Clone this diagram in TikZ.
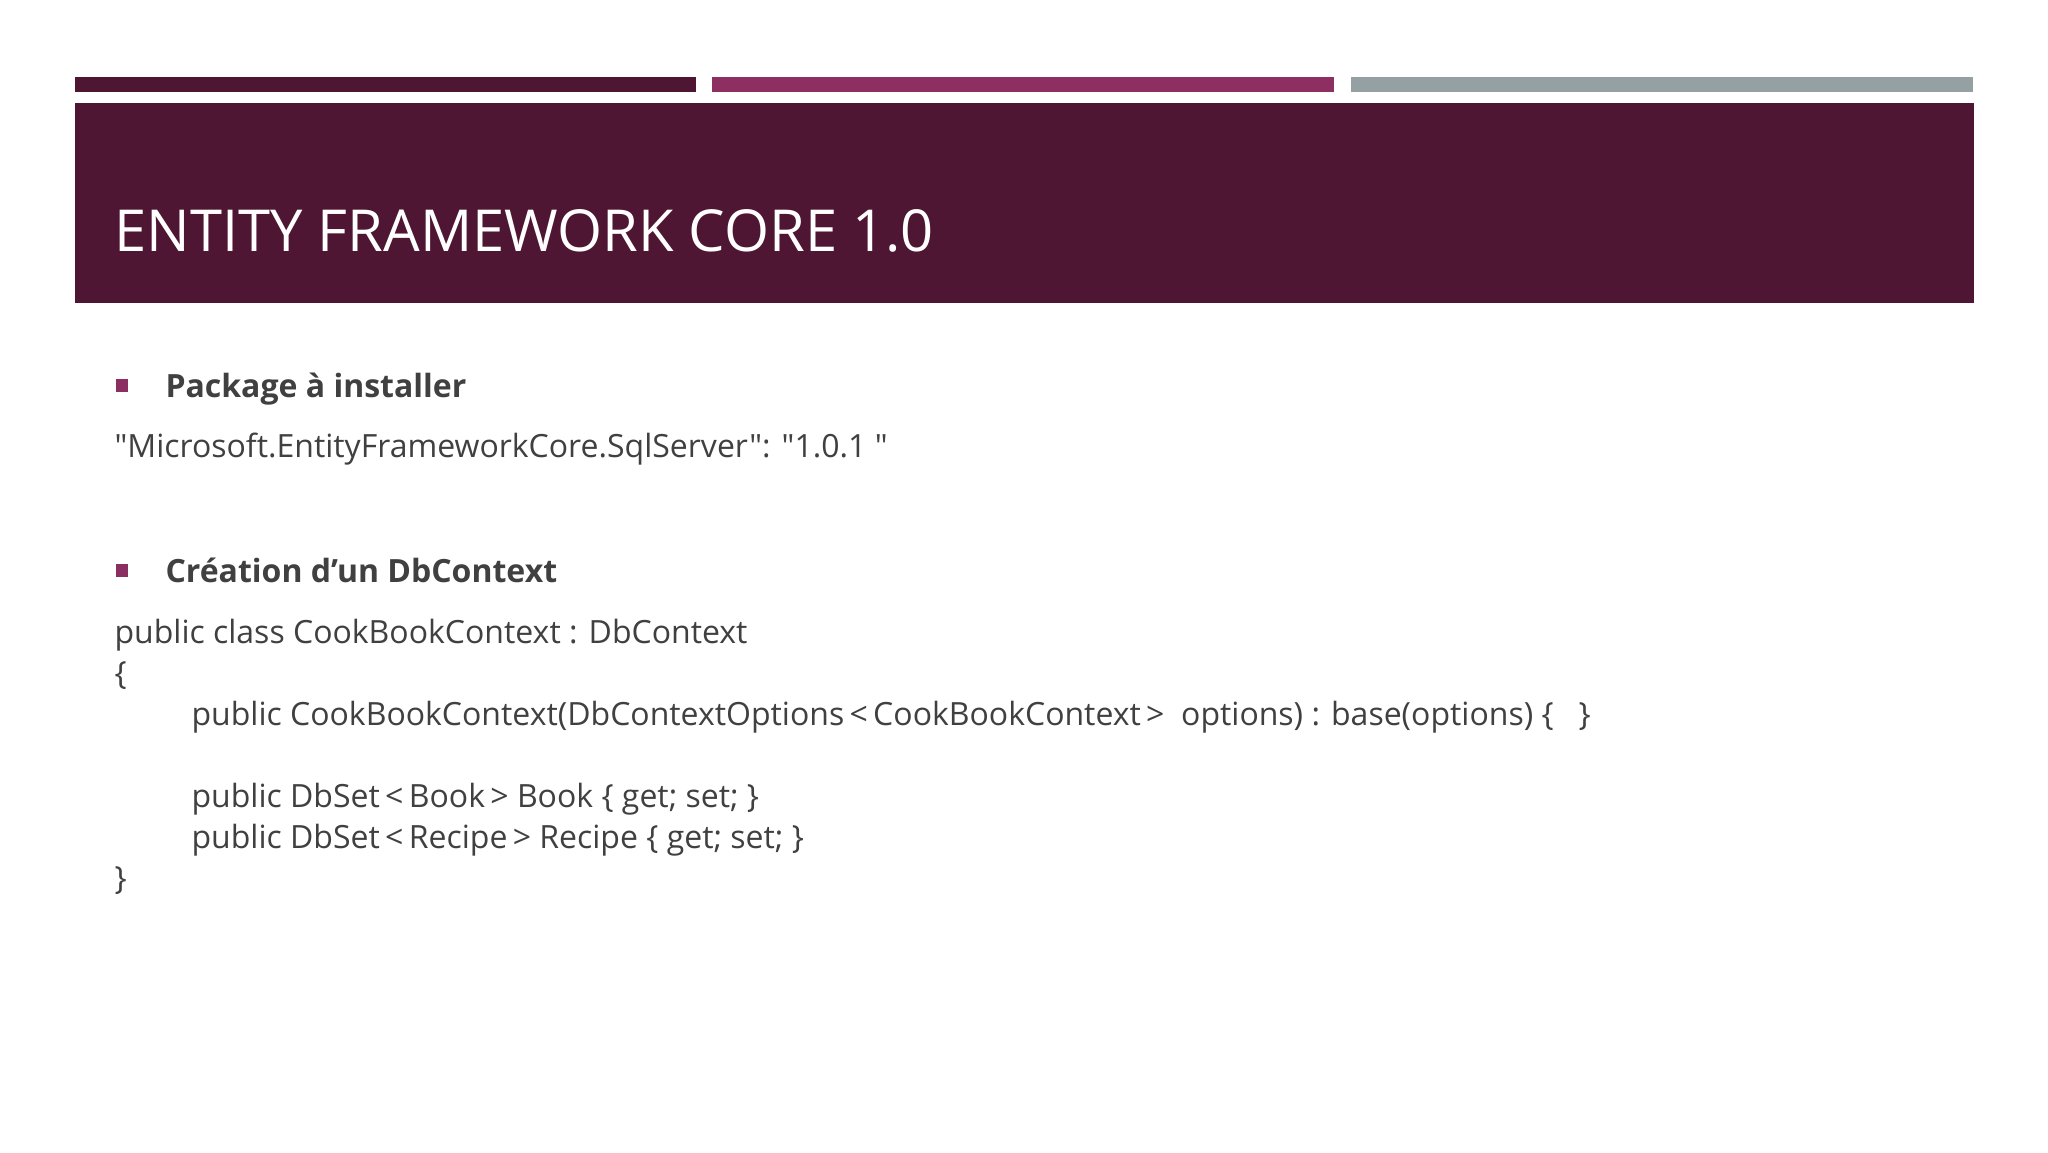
\documentclass[tikz,border=0pt]{standalone}
\usepackage{fontspec}
\setmainfont{Open Sans}[Ligatures=TeXOff]
\definecolor{banner}{HTML}{4F1634}
\definecolor{barmag}{HTML}{8D2F60}
\definecolor{bargrey}{HTML}{95A0A3}
\definecolor{bulletc}{HTML}{8B2F62}
\definecolor{txt}{HTML}{404040}
\begin{document}
\begin{tikzpicture}[x=0.375pt,y=-0.375pt,
  body/.style={anchor=base west,inner sep=0pt,text=txt,font=\fontsize{12}{14}\selectfont},
  head/.style={anchor=base west,inner sep=0pt,text=txt,font=\fontsize{12}{14}\selectfont\bfseries},
  bul/.style={fill=bulletc,draw=none}]
\useasboundingbox[fill=white] (0,0) rectangle (2048,1152);
% top bars
\fill[banner] (75,77) rectangle (696,92);
\fill[barmag] (712,77) rectangle (1334,92);
\fill[bargrey] (1351,77) rectangle (1973,92);
% banner
\fill[banner] (75,103) rectangle (1974,303);
\node[anchor=base west,inner sep=0pt,text=white,font=\fontsize{21.7}{26}\selectfont] (title) at (114,251) {ENTITY FRAMEWORK CORE 1.0};
% bullet 1
\fill[bul] (116,379) rectangle (128,392);
\node[head] (h1) at (165,397) {Package à installer};
\node[body] (pkg) at (114,457) {"Microsoft.EntityFrameworkCore.SqlServer": "1.0.1 "};
% bullet 2
\fill[bul] (116,564) rectangle (128,577);
\node[head] (h2) at (165,582) {Création d’un DbContext};
\node[body] (c1) at (114,643) {public class CookBookContext : DbContext};
\node[body] (c2) at (114,684) {\{};
\node[body] (c3) at (191,725) {public CookBookContext(DbContextOptions\,<\,CookBookContext\,>\ \ options) : base(options) \{\ \ \ \}};
\node[body] (c4) at (191,807) {public DbSet\,<\,Book\,>\ Book \{ get; set; \}};
\node[body] (c5) at (191,848) {public DbSet\,<\,Recipe\,>\ Recipe \{ get; set; \}};
\node[body] (c6) at (114,889) {\}};
\end{tikzpicture}
\end{document}
